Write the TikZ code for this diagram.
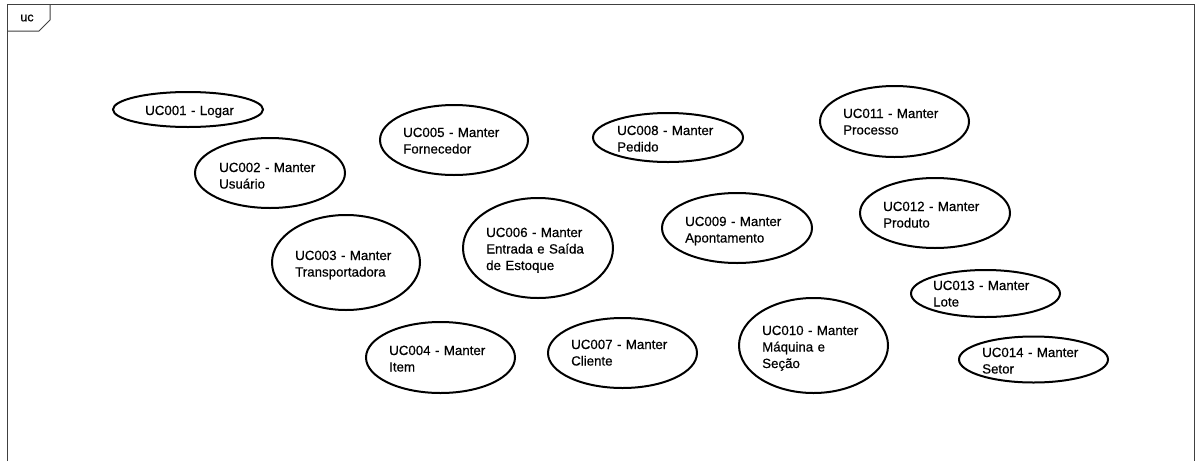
\documentclass[tikz,border=0pt]{standalone}
\usepackage{fontspec}
\setmainfont{Liberation Sans}
\newfontfamily\ucfont{Liberation Sans}[FakeBold=0.5]
\usetikzlibrary{shapes.geometric}
\begin{document}
\begin{tikzpicture}[x=1pt,y=-1pt,
  usecase/.style={draw=black, line width=2pt, ellipse, inner sep=0pt},
  uctext/.style={anchor=base west, inner sep=0pt, align=left, text width=140pt,
    font={\ucfont\fontsize{13.3}{16.5}\selectfont}},
  frameline/.style={draw=black!75, line width=1pt}]
  \useasboundingbox[fill=white] (0,0) rectangle (1196,461);

  % diagram frame with its name tab
  \draw[frameline] (7,461) -- (7,4) -- (1194,4) -- (1194,461);
  \draw[frameline] (7,31) -- (39,31) -- (50,20) -- (50,4);
  \node[font={\ucfont\fontsize{12.5}{15}\selectfont}, inner sep=0pt] (tab) at (27,18) {uc};

  % use cases
  \node[usecase, minimum width=150, minimum height=35]  (e1)  at (188,109.5) {};
  \node[usecase, minimum width=150, minimum height=70]  (e2)  at (270,173) {};
  \node[usecase, minimum width=148, minimum height=95]  (e3)  at (346,262.5) {};
  \node[usecase, minimum width=149, minimum height=71]  (e4)  at (440.5,357.5) {};
  \node[usecase, minimum width=148, minimum height=70]  (e5)  at (454,140) {};
  \node[usecase, minimum width=150, minimum height=100] (e6)  at (538,248) {};
  \node[usecase, minimum width=149, minimum height=70]  (e7)  at (622.5,353) {};
  \node[usecase, minimum width=150, minimum height=49]  (e8)  at (668,137.5) {};
  \node[usecase, minimum width=150, minimum height=70]  (e9)  at (737,228) {};
  \node[usecase, minimum width=149, minimum height=95]  (e10) at (813.5,345.5) {};
  \node[usecase, minimum width=149, minimum height=71]  (e11) at (894.5,121.5) {};
  \node[usecase, minimum width=150, minimum height=70]  (e12) at (935,213) {};
  \node[usecase, minimum width=149, minimum height=47]  (e13) at (985.5,293.5) {};
  \node[usecase, minimum width=149, minimum height=46]  (e14) at (1033.5,359.5) {};

  % use case names
  \node[uctext] (t1)  at (145,115) {UC001 - Logar};
  \node[uctext] (t2)  at (219,172) {UC002 - Manter\\Usuário};
  \node[uctext] (t3)  at (295,260) {UC003 - Manter\\Transportadora};
  \node[uctext] (t4)  at (389,355) {UC004 - Manter\\Item};
  \node[uctext] (t5)  at (403,137) {UC005 - Manter\\Fornecedor};
  \node[uctext] (t6)  at (486,237) {UC006 - Manter\\Entrada e Saída\\de Estoque};
  \node[uctext] (t7)  at (571,349) {UC007 - Manter\\Cliente};
  \node[uctext] (t8)  at (617,135) {UC008 - Manter\\Pedido};
  \node[uctext] (t9)  at (685,226) {UC009 - Manter\\Apontamento};
  \node[uctext] (t10) at (762,335) {UC010 - Manter\\Máquina e\\Seção};
  \node[uctext] (t11) at (843,118) {UC011 - Manter\\Processo};
  \node[uctext] (t12) at (883,211) {UC012 - Manter\\Produto};
  \node[uctext] (t13) at (933,290) {UC013 - Manter\\Lote};
  \node[uctext] (t14) at (982,357) {UC014 - Manter\\Setor};
\end{tikzpicture}
\end{document}
